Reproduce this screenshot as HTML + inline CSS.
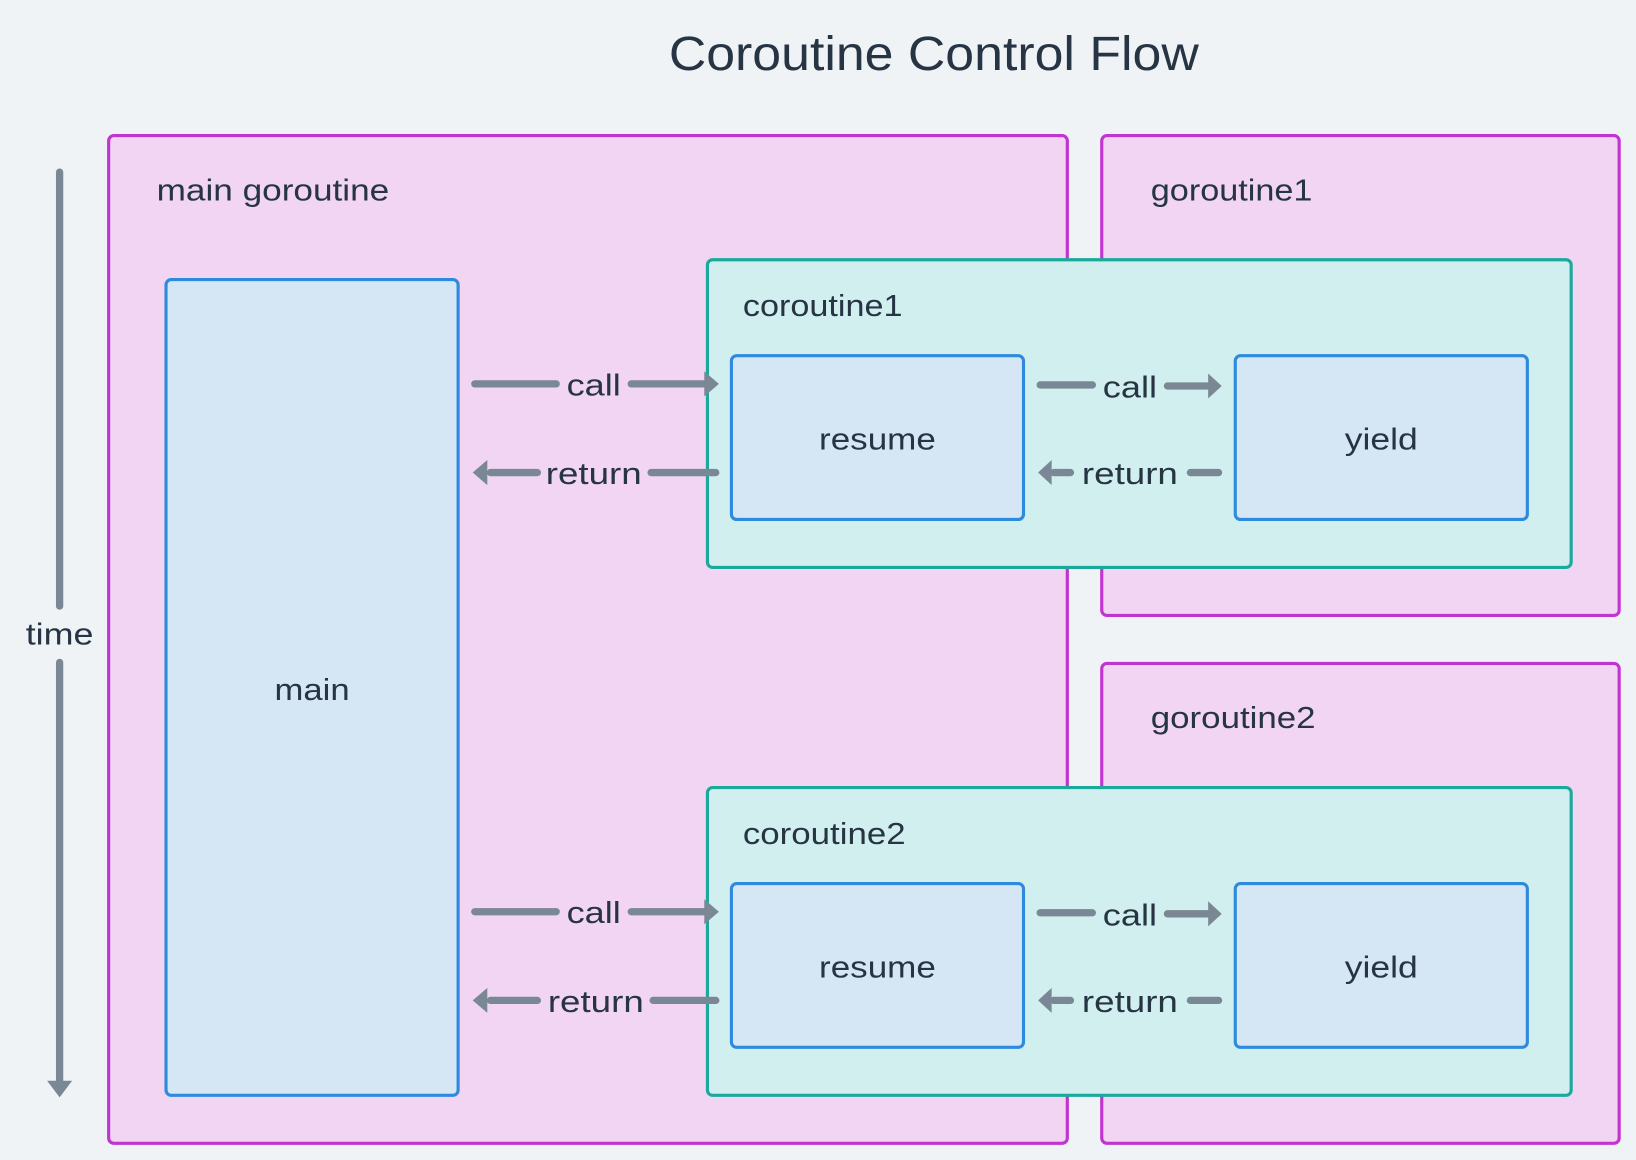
<!DOCTYPE html>
<html><head><meta charset="utf-8"><style>
html,body{margin:0;padding:0;background:#eff3f6;}
svg{display:block}
text{font-family:"Liberation Sans",sans-serif;fill:#263444;}
</style></head><body>
<svg width="1636" height="1160" viewBox="0 0 1568 1112" xmlns="http://www.w3.org/2000/svg">
<rect width="1568" height="1112" fill="#eff3f6"/>
<text x="895" y="67" font-size="46" text-anchor="middle" textLength="508" lengthAdjust="spacingAndGlyphs">Coroutine Control Flow</text>

<g stroke="#7a8794" stroke-width="7" stroke-linecap="round">
<line x1="57" y1="165" x2="57" y2="581"/>
<line x1="57" y1="635" x2="57" y2="1036"/>
</g>
<path d="M57,1052 L45,1036 L69,1036 Z" fill="#7a8794"/>
<text x="57" y="618" font-size="29" text-anchor="middle" textLength="65" lengthAdjust="spacingAndGlyphs">time</text>

<g fill="#f1d5f3" stroke="#c035d0" stroke-width="3">
<rect x="104" y="130" width="919" height="966" rx="5"/>
<rect x="1056" y="130" width="496" height="460" rx="5"/>
<rect x="1056" y="636" width="496" height="460" rx="5"/>
</g>
<text x="150" y="192" font-size="29" textLength="223" lengthAdjust="spacingAndGlyphs">main goroutine</text>
<text x="1103" y="192" font-size="29" textLength="155" lengthAdjust="spacingAndGlyphs">goroutine1</text>
<text x="1103" y="698" font-size="29" textLength="158" lengthAdjust="spacingAndGlyphs">goroutine2</text>

<rect x="159" y="268" width="280" height="782" rx="5" fill="#d5e6f5" stroke="#2e8ade" stroke-width="3"/>
<text x="299" y="671" font-size="29" text-anchor="middle" textLength="72" lengthAdjust="spacingAndGlyphs">main</text>

<g>
<rect x="678" y="249" width="828" height="295" rx="5" fill="#d1efee" stroke="#1aa99b" stroke-width="3"/>
<rect x="701" y="341" width="280" height="157" rx="5" fill="#d5e6f5" stroke="#2e8ade" stroke-width="3"/>
<rect x="1184" y="341" width="280" height="157" rx="5" fill="#d5e6f5" stroke="#2e8ade" stroke-width="3"/>
<text x="841" y="431" font-size="29" text-anchor="middle" textLength="112" lengthAdjust="spacingAndGlyphs">resume</text>
<text x="1324" y="431" font-size="29" text-anchor="middle" textLength="70" lengthAdjust="spacingAndGlyphs">yield</text>
<g stroke="#7a8794" stroke-width="7" stroke-linecap="round">
<line x1="455" y1="368" x2="533" y2="368"/>
<line x1="605" y1="368" x2="676" y2="368"/>
<line x1="470" y1="453" x2="515" y2="453"/>
<line x1="624" y1="453" x2="686" y2="453"/>
<line x1="997" y1="369" x2="1047" y2="369"/>
<line x1="1119" y1="370" x2="1158" y2="370"/>
<line x1="1010" y1="453" x2="1026" y2="453"/>
<line x1="1141" y1="453" x2="1168" y2="453"/>
</g>
<path d="M689,368 L675,356 L675,380 Z" fill="#7a8794"/>
<path d="M453,453 L467,441 L467,465 Z" fill="#7a8794"/>
<path d="M1171,370 L1158,358 L1158,382 Z" fill="#7a8794"/>
<path d="M995,453 L1008,441 L1008,465 Z" fill="#7a8794"/>
<text x="569" y="379" font-size="29" text-anchor="middle" textLength="52" lengthAdjust="spacingAndGlyphs">call</text>
<text x="569" y="464" font-size="29" text-anchor="middle" textLength="92" lengthAdjust="spacingAndGlyphs">return</text>
<text x="1083" y="381" font-size="29" text-anchor="middle" textLength="52" lengthAdjust="spacingAndGlyphs">call</text>
<text x="1083" y="464" font-size="29" text-anchor="middle" textLength="92" lengthAdjust="spacingAndGlyphs">return</text>
<text x="712" y="303" font-size="29" textLength="153" lengthAdjust="spacingAndGlyphs">coroutine1</text>
</g>

<g transform="translate(0,506)">
<rect x="678" y="249" width="828" height="295" rx="5" fill="#d1efee" stroke="#1aa99b" stroke-width="3"/>
<rect x="701" y="341" width="280" height="157" rx="5" fill="#d5e6f5" stroke="#2e8ade" stroke-width="3"/>
<rect x="1184" y="341" width="280" height="157" rx="5" fill="#d5e6f5" stroke="#2e8ade" stroke-width="3"/>
<text x="841" y="431" font-size="29" text-anchor="middle" textLength="112" lengthAdjust="spacingAndGlyphs">resume</text>
<text x="1324" y="431" font-size="29" text-anchor="middle" textLength="70" lengthAdjust="spacingAndGlyphs">yield</text>
<g stroke="#7a8794" stroke-width="7" stroke-linecap="round">
<line x1="455" y1="368" x2="533" y2="368"/>
<line x1="605" y1="368" x2="676" y2="368"/>
<line x1="470" y1="453" x2="515" y2="453"/>
<line x1="626" y1="453" x2="686" y2="453"/>
<line x1="997" y1="369" x2="1047" y2="369"/>
<line x1="1119" y1="370" x2="1158" y2="370"/>
<line x1="1010" y1="453" x2="1026" y2="453"/>
<line x1="1141" y1="453" x2="1168" y2="453"/>
</g>
<path d="M689,368 L675,356 L675,380 Z" fill="#7a8794"/>
<path d="M453,453 L467,441 L467,465 Z" fill="#7a8794"/>
<path d="M1171,370 L1158,358 L1158,382 Z" fill="#7a8794"/>
<path d="M995,453 L1008,441 L1008,465 Z" fill="#7a8794"/>
<text x="569" y="379" font-size="29" text-anchor="middle" textLength="52" lengthAdjust="spacingAndGlyphs">call</text>
<text x="571" y="464" font-size="29" text-anchor="middle" textLength="92" lengthAdjust="spacingAndGlyphs">return</text>
<text x="1083" y="381" font-size="29" text-anchor="middle" textLength="52" lengthAdjust="spacingAndGlyphs">call</text>
<text x="1083" y="464" font-size="29" text-anchor="middle" textLength="92" lengthAdjust="spacingAndGlyphs">return</text>
<text x="712" y="303" font-size="29" textLength="156" lengthAdjust="spacingAndGlyphs">coroutine2</text>
</g>
</svg>
</body></html>
